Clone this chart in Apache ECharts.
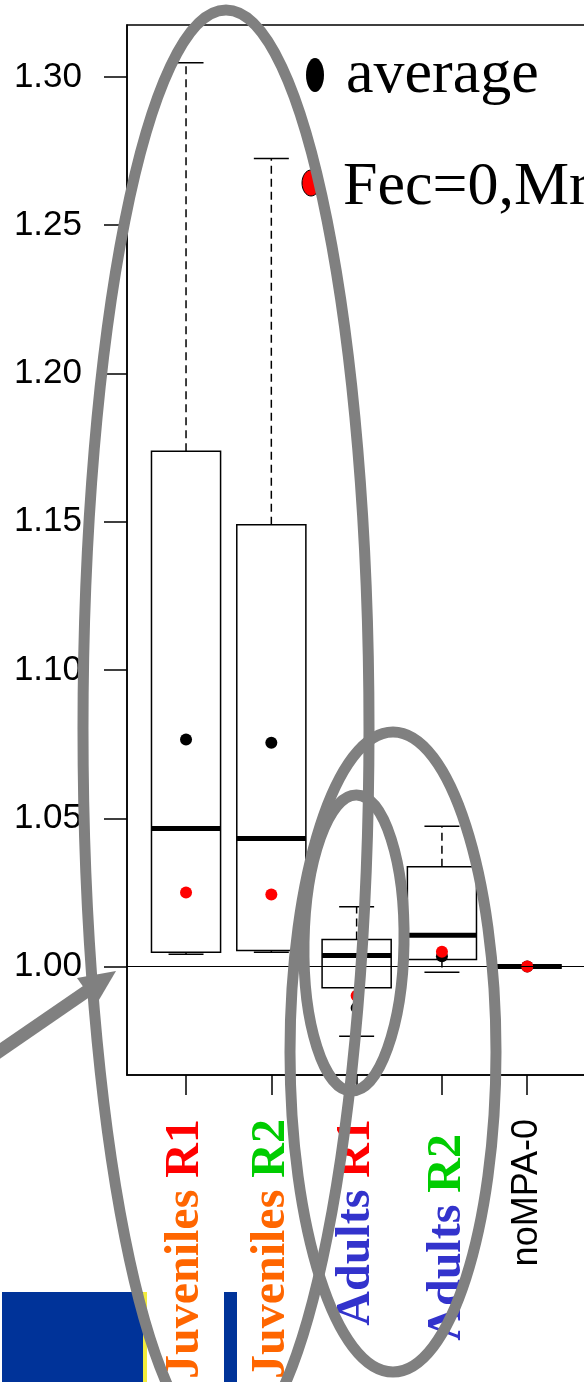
<!DOCTYPE html>
<html><head><meta charset="utf-8">
<script src="https://cdn.jsdelivr.net/npm/echarts@6/dist/echarts.min.js"></script>
<style>html,body{margin:0;padding:0;background:#fff;overflow:hidden}#c{width:680px;height:1382px}</style>
</head><body><div id="c"></div>
<script>
const categories = ['Juveniles R1','Juveniles R2','Adults R1','Adults R2','noMPA-0'];
const positions = [1, 2, 3, 4, 5];
const whiskerLow = [1.0042, 1.0048, 0.9765, 0.9981, 1.0000];
const q1 = [1.0048, 1.0054, 0.9929, 1.0024, 1.0000];
const median = [1.0466, 1.0432, 1.0037, 1.0106, 1.0000];
const q3 = [1.1738, 1.1490, 1.0091, 1.0337, 1.0000];
const whiskerHigh = [1.3048, 1.2725, 1.0202, 1.0473, 1.0000];
const average = [1.0766, 1.0755, 0.9860, 1.0035, 1.0000];
const fec0 = [1.0250, 1.0243, 0.9902, 1.0050, 1.0000];
const yTicks = [1.00, 1.05, 1.10, 1.15, 1.20, 1.25, 1.30];
const legendNames = ['average', 'Fec=0,Mr=0'];

const richLabels = [
  '{o|Juveniles }{r|R1}',
  '{o|Juveniles }{g|R2}',
  '{b|Adults }{r|R1}',
  '{b4|Adults }{g4|R2}{sp|}',
  '{k|noMPA-0}'
];

const chart = echarts.init(document.getElementById('c'), null, {renderer: 'canvas'});
const BOX_W = 0.81, CAP_W = 0.41;
const serif = 'Liberation Serif';

const boxData = positions.map((p, i) => [p, whiskerLow[i], q1[i], median[i], q3[i], whiskerHigh[i]]);

chart.setOption({
  backgroundColor: '#ffffff',
  animation: false,
  grid: {left: 127, top: 25, width: 520, height: 1053, show: true, borderColor: '#000', borderWidth: 1.5, backgroundColor: 'transparent'},
  xAxis: {
    type: 'value', min: 0.308, max: 6.404,
    axisLine: {show: true, onZero: false, lineStyle: {color: '#000', width: 1.5}},
    axisTick: {show: true, length: 20, customValues: positions, lineStyle: {color: '#000', width: 1.5}},
    splitLine: {show: false},
    axisLabel: {
      customValues: positions, rotate: 90, margin: 44,
      formatter: v => richLabels[positions.indexOf(Math.round(v))] || '',
      rich: {
        o: {fontFamily: serif, fontWeight: 'bold', fontSize: 48, color: '#FF6600'},
        r: {fontFamily: serif, fontWeight: 'bold', fontSize: 48, color: '#FF0000'},
        g: {fontFamily: serif, fontWeight: 'bold', fontSize: 48, color: '#00CC00'},
        b: {fontFamily: serif, fontWeight: 'bold', fontSize: 48, color: '#3333CC'},
        b4: {fontFamily: serif, fontWeight: 'bold', fontSize: 48, color: '#3333CC', verticalAlign: 'bottom'},
        g4: {fontFamily: serif, fontWeight: 'bold', fontSize: 48, color: '#00CC00', verticalAlign: 'bottom'},
        sp: {width: 15, height: 60},
        k: {fontFamily: 'Liberation Sans', fontSize: 36, color: '#000'}
      }
    }
  },
  yAxis: {
    type: 'value', min: 0.96345, max: 1.3175,
    axisLine: {show: true, lineStyle: {color: '#000', width: 1.5}},
    axisTick: {show: true, length: 23, customValues: yTicks, lineStyle: {color: '#000', width: 1.5}},
    splitLine: {show: false},
    axisLabel: {customValues: yTicks, margin: 45, fontFamily: 'Liberation Sans', fontSize: 35, color: '#000',
      formatter: v => Number(v).toFixed(2)}
  },
  series: [
    {
      type: 'custom', name: 'box', data: boxData,
      encode: {x: 0, y: [1, 2, 3, 4, 5]},
      renderItem: function (params, api) {
        const x = api.value(0);
        const bw = api.size([BOX_W, 0])[0];
        const cw = api.size([CAP_W, 0])[0];
        const pL = api.coord([x, api.value(1)]);
        const p1 = api.coord([x, api.value(2)]);
        const pM = api.coord([x, api.value(3)]);
        const p3 = api.coord([x, api.value(4)]);
        const pH = api.coord([x, api.value(5)]);
        const cx = pM[0];
        const thin = {stroke: '#000', lineWidth: 1.5, fill: null};
        const dash = {stroke: '#000', lineWidth: 1.5, lineDash: [8, 5], fill: null};
        return {type: 'group', children: [
          {type: 'line', shape: {x1: cx, y1: p3[1], x2: cx, y2: pH[1]}, style: dash},
          {type: 'line', shape: {x1: cx, y1: p1[1], x2: cx, y2: pL[1]}, style: dash},
          {type: 'line', shape: {x1: cx - cw / 2, y1: pH[1], x2: cx + cw / 2, y2: pH[1]}, style: thin},
          {type: 'line', shape: {x1: cx - cw / 2, y1: pL[1], x2: cx + cw / 2, y2: pL[1]}, style: thin},
          {type: 'rect', shape: {x: cx - bw / 2, y: p3[1], width: bw, height: p1[1] - p3[1]}, style: {stroke: '#000', lineWidth: 1.5, fill: '#fff'}},
          {type: 'line', shape: {x1: cx - bw / 2, y1: pM[1], x2: cx + bw / 2, y2: pM[1]}, style: {stroke: '#000', lineWidth: 5}}
        ]};
      },
      markLine: {silent: true, symbol: 'none', label: {show: false},
        lineStyle: {color: '#000', width: 1.2, type: 'solid'}, data: [{yAxis: 1}]}
    },
    {type: 'scatter', name: legendNames[0], data: positions.map((p, i) => [p, average[i]]),
      symbol: 'circle', symbolSize: 12, itemStyle: {color: '#000', opacity: 1}, z: 3},
    {type: 'scatter', name: legendNames[1], data: positions.map((p, i) => [p, fec0[i]]),
      symbol: 'circle', symbolSize: 12, itemStyle: {color: '#FF0000', opacity: 1}, z: 4}
  ],
  graphic: [
    {type: 'rect', shape: {x: 2, y: 1292, width: 141, height: 90}, style: {fill: '#003399'}, z: 1},
    {type: 'rect', shape: {x: 143, y: 1292, width: 4, height: 90}, style: {fill: '#F2EC3C'}, z: 1},
    {type: 'rect', shape: {x: 224, y: 1292, width: 13, height: 90}, style: {fill: '#003399'}, z: 1},
    {type: 'ellipse', shape: {cx: 315, cy: 75, rx: 9, ry: 17}, style: {fill: '#000'}, z: 50},
    {type: 'text', x: 346, y: 76, style: {text: legendNames[0], font: '62px "Liberation Serif"', fill: '#000', verticalAlign: 'middle'}, z: 50},
    {type: 'ellipse', shape: {cx: 311, cy: 183, rx: 9, ry: 13}, style: {fill: '#FF0000', stroke: '#000', lineWidth: 1}, z: 50},
    {type: 'text', x: 343, y: 188, style: {text: legendNames[1], font: '62px "Liberation Serif"', fill: '#000', verticalAlign: 'middle'}, z: 50},
    {type: 'ellipse', shape: {cx: 226, cy: 729, rx: 143, ry: 719}, style: {fill: null, stroke: '#808080', lineWidth: 11}, z: 100},
    {type: 'ellipse', shape: {cx: 393, cy: 1052, rx: 103, ry: 320}, style: {fill: null, stroke: '#808080', lineWidth: 11}, z: 100},
    {type: 'ellipse', shape: {cx: 354, cy: 943, rx: 50, ry: 148}, originX: 354, originY: 943, rotation: -0.017, style: {fill: null, stroke: '#808080', lineWidth: 11}, z: 100},
    {type: 'polyline', shape: {points: [[-6, 1055], [90, 989]]}, style: {stroke: '#808080', lineWidth: 13}, z: 100},
    {type: 'polygon', shape: {points: [[116, 971], [77, 978], [96, 1005]]}, style: {fill: '#808080'}, z: 100}
  ]
});
</script></body></html>
